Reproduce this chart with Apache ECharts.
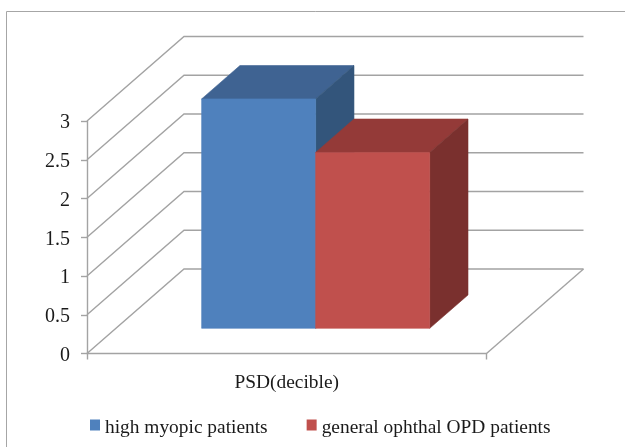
<!DOCTYPE html>
<html>
<head>
<meta charset="utf-8">
<title>PSD</title>
<script src="https://cdn.jsdelivr.net/npm/echarts@6/dist/echarts.min.js"></script>
<style>
    html, body { margin: 0; padding: 0; background: #fff; }
    #chart { width: 625px; height: 447px; }
</style>
</head>
<body>
<div id="chart"></div>
<script>
var categories = ['PSD(decible)'];
var seriesNames = ['high myopic patients', 'general ophthal OPD patients'];
var highMyopic = [2.96];
var generalOphthal = [2.27];
var yTicks = [0, 0.5, 1, 1.5, 2, 2.5, 3];

// fake 3d: how far the back wall sits from the front plane, in pixels
var wallDX = 97;
var wallDY = -84.5;
var barWidthRatio = 0.2854;
var barStart = 0.298;   // where the bar starts on the floor, share of the depth
var barDepth = 0.395;

var textFont = '"Liberation Serif", "Times New Roman", serif';
var lineColor = '#a3a3a3';

function wallItem(params, api) {
    var grid = params.coordSys;
    var y = api.coord([0, api.value(0)])[1];
    var left = grid.x;
    var right = grid.x + grid.width;
    var children = [{
        type: 'polyline',
        shape: { points: [[left, y], [left + wallDX, y + wallDY], [right + wallDX, y + wallDY]] },
        style: { fill: null, stroke: lineColor, lineWidth: 1.4 }
    }];
    if (api.value(0) === 0) {
        children.push({
            type: 'line',
            shape: { x1: right, y1: y, x2: right + wallDX, y2: y + wallDY },
            style: { stroke: lineColor, lineWidth: 1.4 }
        });
    }
    return { type: 'group', children: children };
}

function barRenderer(slot, front, top, side) {
    return function (params, api) {
        var cat = api.value(0);
        var band = api.size([1, 0])[0];
        var w = band * barWidthRatio;
        var base = api.coord([cat, 0]);
        var head = api.coord([cat, api.value(1)]);
        var x0 = base[0] - w + slot * w + wallDX * barStart;
        var x1 = x0 + w;
        var y0 = base[1] + wallDY * barStart;
        var y1 = head[1] + wallDY * barStart;
        var dx = wallDX * barDepth;
        var dy = wallDY * barDepth;
        function face(points, color) {
            return {
                type: 'polygon',
                shape: { points: points },
                style: { fill: color, stroke: color, lineWidth: 0.6 }
            };
        }
        return {
            type: 'group',
            children: [
                face([[x0, y1], [x0 + dx, y1 + dy], [x1 + dx, y1 + dy], [x1, y1]], top),
                face([[x1, y1], [x1 + dx, y1 + dy], [x1 + dx, y0 + dy], [x1, y0]], side),
                face([[x0, y1], [x1, y1], [x1, y0], [x0, y0]], front)
            ]
        };
    };
}

window.onload = function () {
    var myChart = echarts.init(document.getElementById('chart'));

    var option = {
        animation: false,
        backgroundColor: '#fff',
        grid: { left: 87, right: 138.5, top: 121, bottom: 93.5 },
        legend: {
            left: 85,
            top: 418,
            padding: [0, 5],
            data: seriesNames,
            icon: 'rect',
            itemWidth: 10,
            itemHeight: 11,
            itemGap: 39,
            formatter: '{t|{name}}',
            textStyle: {
                rich: { t: { fontFamily: textFont, fontSize: 19.4, color: '#1a1a1a', padding: [5, 0, 0, 0] } }
            }
        },
        xAxis: {
            type: 'category',
            data: categories,
            axisLine: { lineStyle: { color: lineColor, width: 1.4 } },
            axisTick: { show: true, length: 6, lineStyle: { color: lineColor, width: 1.4 } },
            axisLabel: { fontFamily: textFont, fontSize: 19.4, color: '#1a1a1a', margin: 20 }
        },
        yAxis: {
            type: 'value',
            min: 0,
            max: 3,
            interval: 0.5,
            axisLine: { show: true, lineStyle: { color: lineColor, width: 1.4 } },
            axisTick: { show: true, length: 6, lineStyle: { color: lineColor, width: 1.4 } },
            splitLine: { show: false },
            axisLabel: {
                margin: 17,
                formatter: '{n|{value}}',
                rich: { n: { fontFamily: textFont, fontSize: 20, color: '#1a1a1a', padding: [4, 0, 0, 0] } }
            }
        },
        series: [
            {
                name: 'walls',
                type: 'custom',
                z: 1,
                silent: true,
                renderItem: wallItem,
                encode: { y: 0 },
                data: yTicks.map(function (t) { return [t]; })
            },
            {
                name: seriesNames[0],
                type: 'custom',
                z: 2,
                itemStyle: { color: '#4f81bd' },
                renderItem: barRenderer(0, '#4f81bd', '#3f6392', '#33557b'),
                encode: { x: 0, y: 1 },
                data: highMyopic.map(function (v, i) { return [i, v]; })
            },
            {
                name: seriesNames[1],
                type: 'custom',
                z: 3,
                itemStyle: { color: '#c0504d' },
                renderItem: barRenderer(1, '#c0504d', '#943a38', '#7a302e'),
                encode: { x: 0, y: 1 },
                data: generalOphthal.map(function (v, i) { return [i, v]; })
            }
        ],
        graphic: [
            // the picture's frame: only top and left are visible
            {
                type: 'polyline',
                silent: true,
                shape: { points: [[6.5, 447], [6.5, 11.5], [625, 11.5]] },
                style: { fill: null, stroke: '#a6a6a6', lineWidth: 1 }
            }
        ]
    };

    myChart.setOption(option);
};
</script>
</body>
</html>
